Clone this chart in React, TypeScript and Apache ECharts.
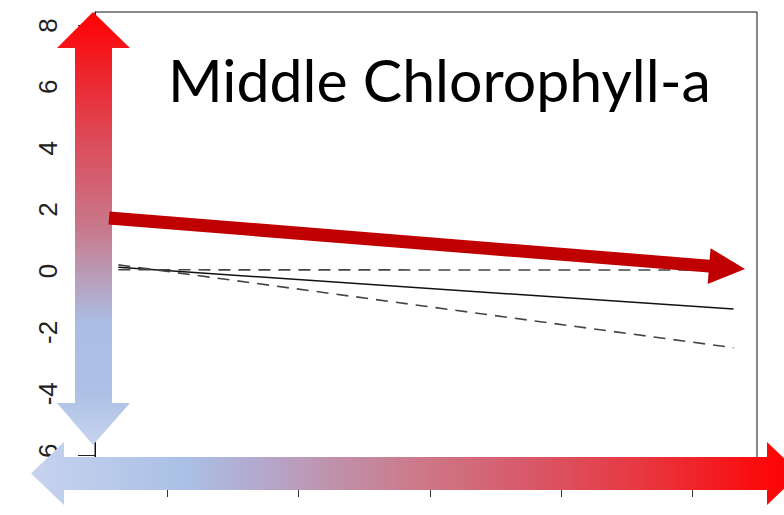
import React, { useEffect, useRef } from "react";
import * as echarts from "echarts";

// ---- data ----
const lineX = [-0.372, 4.311];
const fitLine = [0.12, -1.24];
const upperBand = [0.04, 0.03];
const lowerBand = [0.2, -2.5];
const yTicks = [-6, -4, -2, 0, 2, 4, 6, 8];
const xTicks = [0, 1, 2, 3, 4];
const titleText = "Middle Chlorophyll-a";

function toPairs(xs: number[], ys: number[]) {
  return xs.map((x, i) => [x, ys[i]]);
}

function arrowPoints(x1: number, y1: number, x2: number, y2: number, shaftW: number, headW: number, headL: number) {
  const dx = x2 - x1;
  const dy = y2 - y1;
  const len = Math.sqrt(dx * dx + dy * dy);
  const ux = dx / len;
  const uy = dy / len;
  const nx = -uy;
  const ny = ux;
  const bx = x2 - ux * headL;
  const by = y2 - uy * headL;
  const s = shaftW / 2;
  const h = headW / 2;
  return [
    [x1 + nx * s, y1 + ny * s],
    [bx + nx * s, by + ny * s],
    [bx + nx * h, by + ny * h],
    [x2, y2],
    [bx - nx * h, by - ny * h],
    [bx - nx * s, by - ny * s],
    [x1 - nx * s, y1 - ny * s],
  ];
}

export default function App() {
  const ref = useRef<HTMLDivElement>(null);
  useEffect(() => {
    if (!ref.current) return;
    const chart = echarts.init(ref.current, null, { renderer: "svg" });
    const vGrad = new echarts.graphic.LinearGradient(0, 0, 0, 1, [
      { offset: 0, color: "#ff0000" },
      { offset: 0.1, color: "#f21a20" },
      { offset: 0.3, color: "#dc4c5a" },
      { offset: 0.5, color: "#c8788c" },
      { offset: 0.62, color: "#b8a0bc" },
      { offset: 0.72, color: "#aabde4" },
      { offset: 0.88, color: "#adc1e6" },
      { offset: 1, color: "#c6d3ee" },
    ]);
    const hGrad = new echarts.graphic.LinearGradient(0, 0, 1, 0, [
      { offset: 0, color: "#c6d3ee" },
      { offset: 0.2, color: "#abc0e6" },
      { offset: 0.3, color: "#b4a8cc" },
      { offset: 0.4, color: "#c090a8" },
      { offset: 0.5, color: "#cc7a8a" },
      { offset: 0.65, color: "#d85868" },
      { offset: 0.8, color: "#e8363e" },
      { offset: 0.95, color: "#fb0a0c" },
      { offset: 1, color: "#ff0000" },
    ]);
    chart.setOption({
      animation: false,
      backgroundColor: "#ffffff",
      grid: {
        left: 95,
        right: 27,
        top: 12,
        bottom: 35,
        show: true,
        borderColor: "#111",
        borderWidth: 1,
      },
      xAxis: {
        type: "value",
        min: -0.55,
        max: 4.49,
        splitLine: { show: false },
        axisLine: { show: false, onZero: false },
        axisTick: {
          show: true,
          length: 17,
          customValues: xTicks,
          lineStyle: { color: "#333", width: 1 },
        },
        axisLabel: { show: false },
      },
      yAxis: {
        type: "value",
        min: -6.81,
        max: 8.44,
        splitLine: { show: false },
        axisLine: { show: true, onZero: false, lineStyle: { color: "#111", width: 1 } },
        axisTick: {
          show: true,
          length: 17,
          customValues: yTicks,
          lineStyle: { color: "#222", width: 1 },
        },
        axisLabel: {
          show: true,
          customValues: yTicks,
          rotate: 90,
          margin: 34,
          fontFamily: "'Liberation Sans Narrow', 'Liberation Sans', sans-serif",
          fontSize: 26,
          color: "#222",
        },
      },
      series: [
        {
          type: "line",
          data: toPairs(lineX, fitLine),
          showSymbol: false,
          lineStyle: { color: "#111", width: 1.5, type: "solid" },
          z: 3,
        },
        {
          type: "line",
          data: toPairs(lineX, upperBand),
          showSymbol: false,
          lineStyle: { color: "#444", width: 1.6, type: [12, 8] },
          z: 3,
        },
        {
          type: "line",
          data: toPairs(lineX, lowerBand),
          showSymbol: false,
          lineStyle: { color: "#444", width: 1.6, type: [12, 8] },
          z: 3,
        },
      ],
      graphic: [
        {
          type: "polygon",
          z: 100,
          shape: {
            points: [
              [93, 12], [130, 48], [112, 48], [112, 403], [130, 403],
              [93, 445], [57, 403], [75, 403], [75, 48], [57, 48],
            ],
          },
          style: { fill: vGrad },
        },
        {
          type: "polygon",
          z: 100,
          shape: {
            points: [
              [31, 473.5], [64, 442], [64, 457], [767, 457], [767, 442],
              [800, 473.5], [767, 505], [767, 490], [64, 490], [64, 505],
            ],
          },
          style: { fill: hGrad },
        },
        {
          type: "polygon",
          z: 101,
          shape: { points: arrowPoints(109, 218, 745, 269, 13, 36, 36) },
          style: { fill: "#c00000" },
        },
        {
          type: "text",
          z: 102,
          x: 168,
          y: 79,
          style: {
            text: titleText,
            font: "59px Lato",
            fill: "#000",
            verticalAlign: "middle",
            align: "left",
          },
        },
      ],
    });
    return () => chart.dispose();
  }, []);
  return (
    <div
      ref={ref}
      style={{ position: "fixed", left: 0, top: 0, width: 784, height: 515 }}
    />
  );
}
